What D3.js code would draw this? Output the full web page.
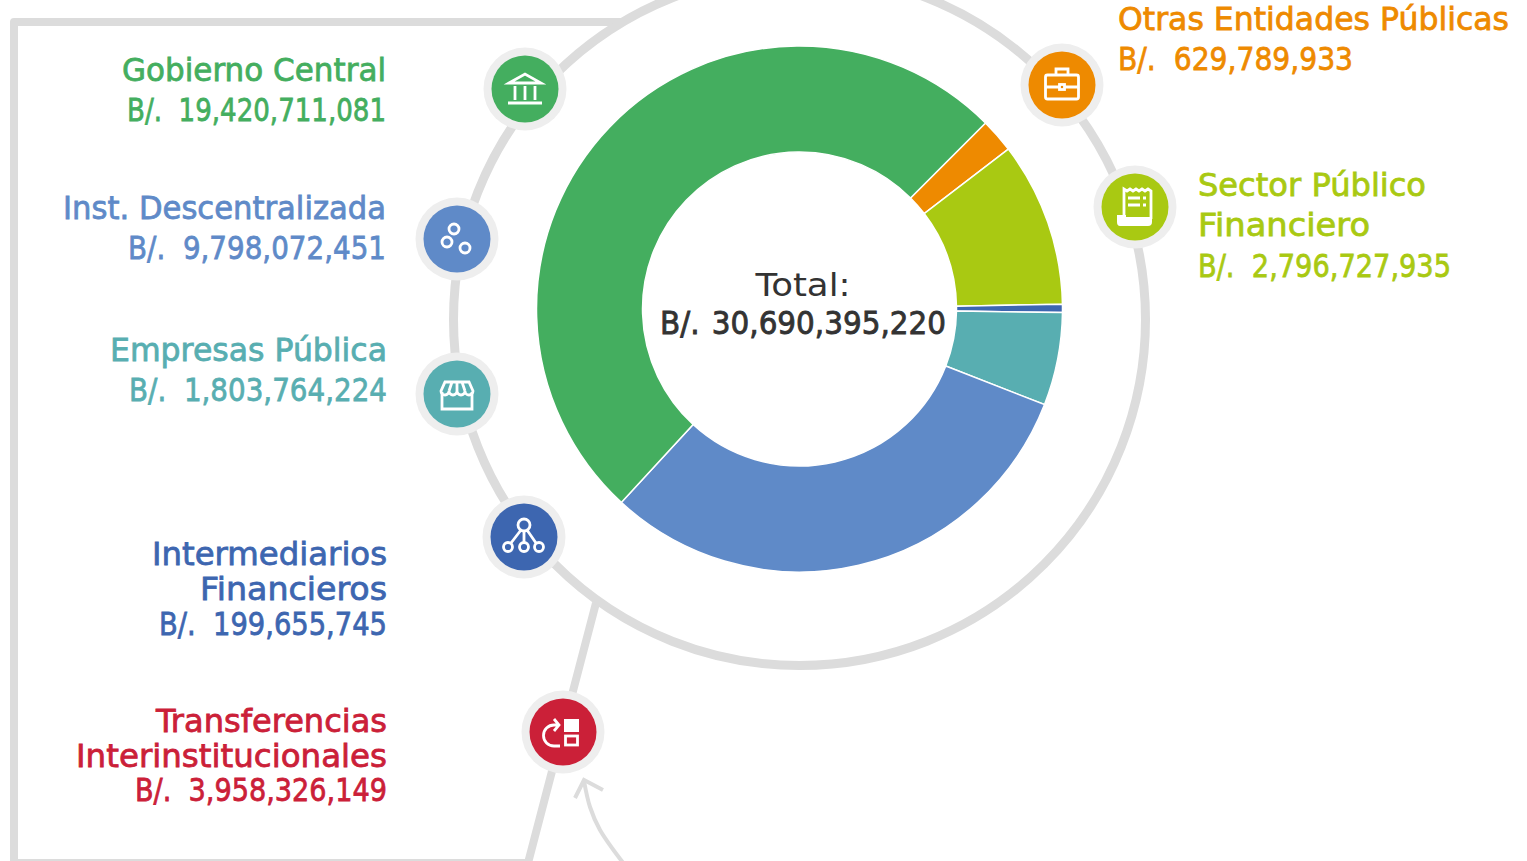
<!DOCTYPE html>
<html>
<head>
<meta charset="utf-8">
<script src="https://cdnjs.cloudflare.com/ajax/libs/d3/7.8.5/d3.min.js"></script>
<style>
  html, body { margin: 0; padding: 0; background: #fff; overflow: hidden; }
  svg { display: block; }
  text { font-family: "DejaVu Sans", Verdana, sans-serif; font-size: 32px; }
</style>
</head>
<body>
<svg id="chart"></svg>
<script>
// slice shares as drawn in the picture (%), clockwise from the green/orange edge
const sliceNames = ['Otras Entidades Públicas', 'Sector Público Financiero', 'Intermediarios Financieros', 'Empresas Pública', 'Inst. Descentralizada', 'Gobierno Central']
const sliceShares = [2.1, 10.1, 0.5, 5.7, 30.9, 50.6]
const sliceColors = ['#ee8a00', '#a9c912', '#3d66b0', '#58aeb1', '#5f8ac8', '#44ae5f']

const labelNames = ['Gobierno Central', 'Inst. Descentralizada', 'Empresas Pública', 'Intermediarios\nFinancieros', 'Transferencias\nInterinstitucionales', 'Otras Entidades Públicas', 'Sector Público\nFinanciero']
const labelAmounts = ['B/.  19,420,711,081', 'B/.  9,798,072,451', 'B/.  1,803,764,224', 'B/.  199,655,745', 'B/.  3,958,326,149', 'B/.  629,789,933', 'B/.  2,796,727,935']
const labelColors = ['#44ae5f', '#5f8ac8', '#58aeb1', '#3d66b0', '#cb2038', '#ee8a00', '#a9c912']
const totalLabel = 'Total:'
const totalAmount = 'B/. \u200a30,690,395,220'

const width = 1527
const height = 861
const cx = 799.5
const cy = 309
const outerRadius = 263
const innerRadius = 157
const ringY = 319.5
const ringRadius = 346
const grey = '#dcdcdc'

const svg = d3.select('#chart').attr('width', width).attr('height', height)

// frame and ring behind everything
const frame = d3.path()
frame.moveTo(622, 22)
frame.lineTo(14, 22)
frame.lineTo(14, 863)
frame.lineTo(528, 863)
frame.lineTo(596, 603)
svg.append('path').attr('d', frame.toString())
  .attr('fill', 'none').attr('stroke', grey).attr('stroke-width', 8).attr('stroke-linejoin', 'round')

svg.append('circle').attr('cx', cx).attr('cy', ringY).attr('r', ringRadius)
  .attr('fill', 'none').attr('stroke', grey).attr('stroke-width', 9)

// small arrow under the red circle
const curve = d3.line().curve(d3.curveCatmullRom)
svg.append('path').attr('d', curve([[584, 781], [590, 807], [600, 830], [624, 864]]))
  .attr('fill', 'none').attr('stroke', grey).attr('stroke-width', 4)
svg.append('path').attr('d', d3.line()([[575, 798], [584, 780], [603, 790]]))
  .attr('fill', 'none').attr('stroke', grey).attr('stroke-width', 4)

// donut
const pie = d3.pie().sort(null).startAngle(Math.PI / 4).endAngle(Math.PI / 4 + 2 * Math.PI)
const arc = d3.arc().innerRadius(innerRadius).outerRadius(outerRadius)
svg.append('g')
  .attr('transform', 'translate(' + cx + ',' + cy + ')')
  .selectAll('path')
  .data(pie(sliceShares))
  .enter()
  .append('path')
  .attr('d', arc)
  .attr('fill', function (d, i) { return sliceColors[i] })
  .attr('stroke', '#fff')
  .attr('stroke-width', 1.5)

// centre text
svg.append('text').attr('x', 803).attr('y', 296).attr('text-anchor', 'middle')
  .attr('fill', '#333').attr('textLength', 95).attr('lengthAdjust', 'spacingAndGlyphs').text(totalLabel)
svg.append('text').attr('x', 803).attr('y', 334).attr('text-anchor', 'middle').attr('xml:space', 'preserve')
  .attr('fill', '#333').attr('stroke', '#333').attr('stroke-width', 0.9)
  .attr('textLength', 286).attr('lengthAdjust', 'spacingAndGlyphs').text(totalAmount)

// label placement: anchor x, baseline of each line, fitted width of each line
const labelLayout = [
  { x: 386, anchor: 'end', ys: [81, 121], widths: [264, 259] },
  { x: 386, anchor: 'end', ys: [219, 259], widths: [323, 258] },
  { x: 387, anchor: 'end', ys: [361, 401], widths: [277, 258] },
  { x: 387, anchor: 'end', ys: [565, 599.5, 634.5], widths: [235, 187, 228] },
  { x: 387, anchor: 'end', ys: [732, 767, 801], widths: [231, 311, 252] },
  { x: 1118, anchor: 'start', ys: [30, 70], widths: [391, 235] },
  { x: 1198, anchor: 'start', ys: [196, 236, 277], widths: [228, 172, 253] }
]

labelNames.forEach(function (name, i) {
  const lines = name.split('\n').concat(labelAmounts[i])
  const l = labelLayout[i]
  svg.append('g').selectAll('text')
    .data(lines)
    .enter()
    .append('text')
    .attr('xml:space', 'preserve')
    .attr('x', l.x)
    .attr('y', function (d, j) { return l.ys[j] })
    .attr('text-anchor', l.anchor)
    .attr('textLength', function (d, j) { return l.widths[j] })
    .attr('lengthAdjust', 'spacingAndGlyphs')
    .attr('fill', labelColors[i])
    .attr('stroke', labelColors[i])
    .attr('stroke-width', 0.8)
    .text(function (d) { return d })
})

// icon badges, same order as the labels
const badgeCentres = [[525, 89], [457, 239], [457, 394], [524, 537], [563, 732], [1062, 85], [1135, 207]]

const icons = [
  function (g) { // bank
    g.append('path').attr('d', 'M-16,-6 L0,-15 L16,-6 Z').attr('class', 'ln')
    g.append('path').attr('d', 'M-10,-3 V11 M0,-3 V11 M10,-3 V11 M-17,14 H17').attr('class', 'ln')
  },
  function (g) { // three dots
    g.append('circle').attr('cx', -3).attr('cy', -10).attr('r', 5).attr('class', 'ln')
    g.append('circle').attr('cx', -10).attr('cy', 3).attr('r', 5).attr('class', 'ln')
    g.append('circle').attr('cx', 8).attr('cy', 9).attr('r', 5).attr('class', 'ln')
  },
  function (g) { // shop
    g.append('path').attr('d', 'M-15,-2 V15 H15 V-2').attr('class', 'ln')
    g.append('path').attr('d', 'M-12,-12 H12 L16,-3 A4,4 0 0 1 8,-3 A4,4 0 0 1 0,-3 A4,4 0 0 1 -8,-3 A4,4 0 0 1 -16,-3 Z M-5,-12 L-8,-3 M5,-12 L8,-3 M0,-12 V-3').attr('class', 'ln')
  },
  function (g) { // hierarchy
    g.append('circle').attr('cx', 0).attr('cy', -12).attr('r', 6).attr('class', 'ln')
    g.append('circle').attr('cx', -16).attr('cy', 10).attr('r', 4.5).attr('class', 'ln')
    g.append('circle').attr('cx', 0).attr('cy', 10).attr('r', 4.5).attr('class', 'ln')
    g.append('circle').attr('cx', 15).attr('cy', 10).attr('r', 4.5).attr('class', 'ln')
    g.append('path').attr('d', 'M0,-6 V5 M-3,-7 L-13,6 M3,-7 L12,6').attr('class', 'ln')
  },
  function (g) { // transfer
    g.append('path').attr('d', 'M-3,14 H-9 A10.5,10.5 0 0 1 -9,-7 H-5 M-9,-13 L-4,-7 L-9,-1').attr('class', 'ln')
    g.append('rect').attr('x', 1).attr('y', -13).attr('width', 15).attr('height', 13).attr('fill', '#fff')
    g.append('rect').attr('x', 2.5).attr('y', 4).attr('width', 12).attr('height', 9).attr('class', 'ln')
  },
  function (g) { // briefcase
    g.append('rect').attr('x', -16.5).attr('y', -10).attr('width', 33).attr('height', 24).attr('rx', 2).attr('class', 'ln')
    g.append('path').attr('d', 'M-6,-10 V-16 H6 V-10 M-16,2 H-3 M3,2 H16').attr('class', 'ln')
    g.append('rect').attr('x', -2.5).attr('y', -0.5).attr('width', 5).attr('height', 5).attr('class', 'ln')
  },
  function (g) { // receipt
    g.append('path').attr('d', 'M-11,10 V-18 L-8,-16 L-5,-18 L-2,-16 L1,-18 L4,-16 L7,-18 L10,-16 L13,-18 L16,-16 V12').attr('class', 'ln')
    g.append('path').attr('d', 'M-18,8 H-9 V10 H17 V15 Q17,19 13,19 H-15 Q-18,19 -18,15 Z').attr('fill', '#fff')
    g.append('path').attr('d', 'M-7,-9 H5 M-7,-2 H5 M8,-9 H11 M8,-2 H11').attr('class', 'ln')
  }
]

badgeCentres.forEach(function (c, i) {
  const g = svg.append('g').attr('transform', 'translate(' + c[0] + ',' + c[1] + ')')
  g.append('circle').attr('r', 41.5).attr('fill', '#eeeeee')
  g.append('circle').attr('r', 33.5).attr('fill', labelColors[i])
  icons[i](g)
})

svg.selectAll('.ln').attr('fill', 'none').attr('stroke', '#fff').attr('stroke-width', 2.8)
</script>
</body>
</html>
